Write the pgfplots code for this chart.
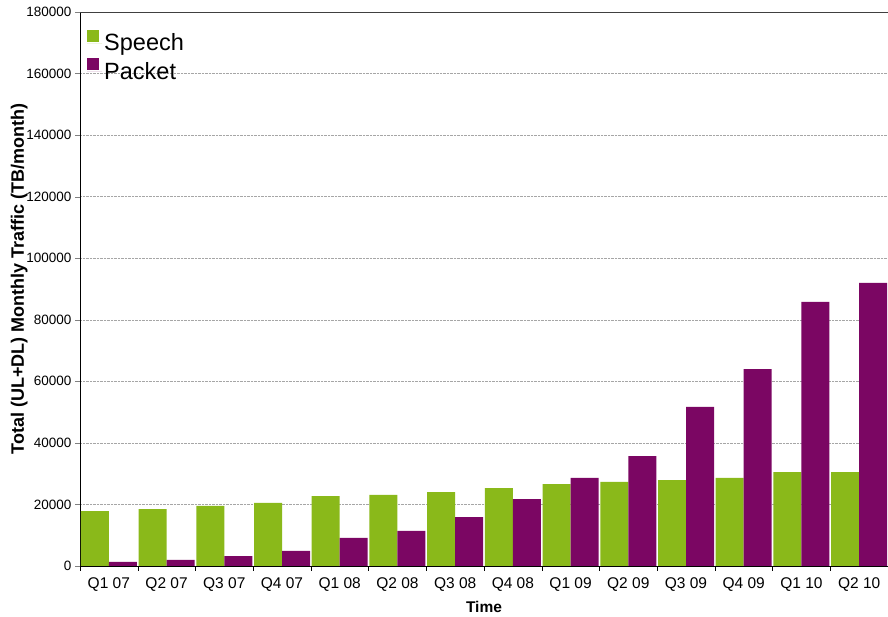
\documentclass[border=0pt]{standalone}
\usepackage{pgfplots}
\pgfplotsset{compat=1.18}
\usepackage{fontspec}
\setmainfont{Liberation Sans}
\definecolor{speech}{RGB}{138,185,26}
\definecolor{packet}{RGB}{123,6,99}
\begin{document}
\begin{tikzpicture}
\path[use as bounding box] (0,0) rectangle (888pt,617pt);
\begin{axis}[
  at={(80pt,51pt)}, anchor=south west,
  scale only axis, width=808pt, height=554pt,
  ybar=0pt, bar width=28pt,
  xmin=-0.5, xmax=13.5, ymin=0, ymax=180000,
  xtick={0,...,13},
  xticklabels={Q1 07,Q2 07,Q3 07,Q4 07,Q1 08,Q2 08,Q3 08,Q4 08,Q1 09,Q2 09,Q3 09,Q4 09,Q1 10,Q2 10},
  minor xtick={-0.5,0.5,...,13.5},
  every major x tick/.style={draw=none},
  every minor x tick/.style={draw=black},
  ytick={0,20000,...,180000},
  scaled y ticks=false,
  yticklabel={\pgfmathparse{int(\tick)}\pgfmathresult},
  tick align=outside,
  major tick length=5pt, minor tick length=5pt,
  axis x line*=bottom, axis y line*=left,
  axis line style={black, line width=0.8pt},
  ymajorgrids,
  major grid style={densely dotted, gray!70},
  x tick label style={font=\fontsize{15.5}{17}\selectfont, yshift=-3pt},
  y tick label style={font=\fontsize{13.5}{15}\selectfont},
  xlabel={Time},
  ylabel={Total (UL+DL) Monthly Traffic (TB/month)},
  xlabel style={font=\bfseries\fontsize{15.5}{18}\selectfont, yshift=-3pt},
  ylabel style={font=\bfseries\fontsize{18}{20}\selectfont, yshift=-8pt, xshift=10pt},
  legend style={at={(0,1)}, anchor=north west, xshift=4pt, yshift=-16pt,
    draw=none, fill=none, font=\fontsize{23.5}{25}\selectfont,
    row sep=4pt},
  legend cell align=left,
  legend image code/.code={\path (0pt,0pt) -- (15pt,0pt);\fill[#1] (0pt,1pt) rectangle (12pt,13pt);},
]
\addplot[fill=speech, draw=none] coordinates {
(0,17800) (1,18500) (2,19500) (3,20500) (4,22700) (5,23100) (6,24000)
(7,25300) (8,26600) (9,27300) (10,27900) (11,28600) (12,30500) (13,30500)};
\addplot[fill=packet, draw=none] coordinates {
(0,1300) (1,2000) (2,3200) (3,4900) (4,9100) (5,11400) (6,15900)
(7,21700) (8,28600) (9,35700) (10,51700) (11,64000) (12,85800) (13,92000)};
\legend{Speech, Packet}
\draw[black!75, line width=0.8pt] (rel axis cs:0,1) -- (rel axis cs:1,1);
\end{axis}
\end{tikzpicture}
\end{document}
